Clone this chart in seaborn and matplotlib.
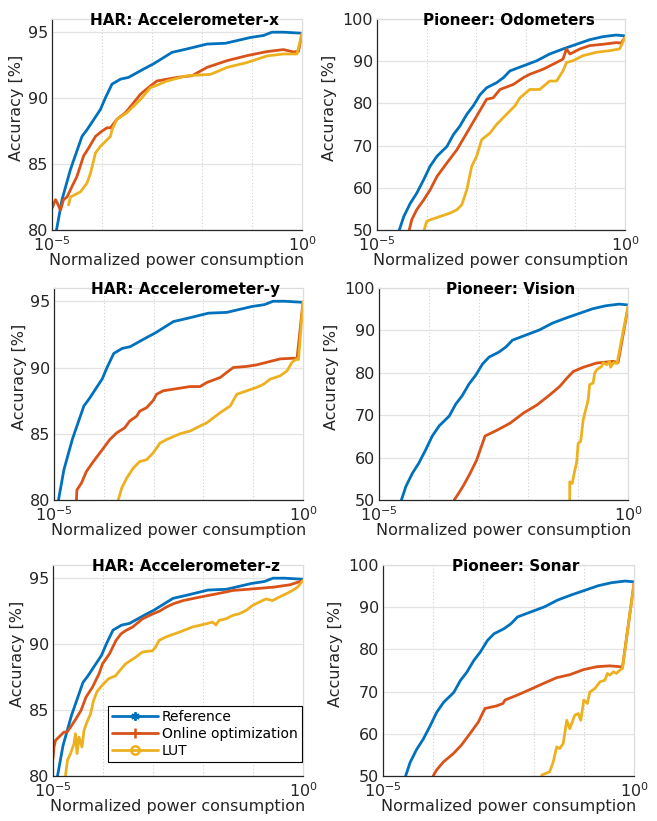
import numpy as np
import pandas as pd
import matplotlib
matplotlib.use("Agg")
import matplotlib.pyplot as plt
from matplotlib.lines import Line2D
from matplotlib.ticker import FixedLocator, LogFormatterMathtext, NullFormatter
import seaborn as sns

# ---------------- data (x given as log10 of normalized power) ----------------
# HAR reference (same in all three HAR panels)
har_ref_logp = [-4.91, -4.8, -4.63, -4.4, -4.3, -4.03, -3.93, -3.8, -3.63, -3.47, -3.17, -2.97,
                -2.6, -2.3, -1.9, -1.53, -1.03, -0.77, -0.6, -0.37, 0.0]
har_ref_acc = [80.0, 82.3, 84.6, 87.1, 87.6, 89.15, 90.04, 91.06, 91.44, 91.57, 92.2, 92.6,
               93.47, 93.73, 94.1, 94.16, 94.6, 94.75, 95.0, 95.0, 94.92]

# HAR: Accelerometer-x
accx_online_logp = [-5.0, -4.93, -4.9, -4.83, -4.77, -4.7, -4.6, -4.5, -4.37, -4.27, -4.13, -4.0,
                    -3.9, -3.83, -3.7, -3.53, -3.4, -3.23, -3.03, -2.9, -2.5, -2.2, -1.9, -1.5,
                    -1.1, -0.7, -0.37, -0.17, -0.07, 0.0]
accx_online_acc = [81.65, 82.3, 82.1, 81.5, 82.3, 82.5, 83.3, 84.07, 85.6, 86.2, 87.1, 87.5,
                   87.75, 87.75, 88.4, 88.9, 89.5, 90.3, 90.93, 91.3, 91.57, 91.7, 92.33, 92.84,
                   93.22, 93.53, 93.68, 93.5, 93.55, 94.92]
accx_lut_logp = [-4.67, -4.63, -4.43, -4.3, -4.23, -4.13, -4.03, -3.83, -3.8, -3.7, -3.5, -3.23,
                 -3.03, -2.9, -2.7, -2.3, -1.83, -1.5, -1.1, -0.7, -0.37, -0.1, 0.0]
accx_lut_acc = [81.9, 82.5, 82.9, 83.56, 84.3, 85.85, 86.35, 87.1, 87.6, 88.4, 88.9, 89.9,
                90.8, 90.98, 91.3, 91.7, 91.8, 92.33, 92.7, 93.2, 93.35, 93.35, 94.9]

# HAR: Accelerometer-y
accy_online_logp = [-4.55, -4.54, -4.45, -4.35, -4.21, -4.08, -4.01, -3.88, -3.74, -3.58, -3.48,
                    -3.34, -3.28, -3.14, -3.01, -2.94, -2.81, -2.54, -2.27, -2.07, -1.93, -1.66,
                    -1.53, -1.4, -1.13, -0.93, -0.72, -0.46, -0.19, -0.12, 0.0]
accy_online_acc = [80.0, 80.76, 81.27, 82.15, 82.9, 83.55, 83.9, 84.56, 85.07, 85.45, 85.96,
                   86.33, 86.7, 86.97, 87.5, 87.98, 88.24, 88.4, 88.56, 88.56, 88.87, 89.25,
                   89.63, 90.0, 90.08, 90.2, 90.4, 90.65, 90.7, 90.65, 94.95]
accy_lut_logp = [-3.71, -3.64, -3.54, -3.41, -3.28, -3.14, -3.01, -2.87, -2.74, -2.47, -2.27,
                 -2.07, -1.93, -1.66, -1.46, -1.33, -1.13, -0.93, -0.79, -0.66, -0.46, -0.32,
                 -0.22, -0.12, -0.09, 0.0]
accy_lut_acc = [80.0, 80.9, 81.65, 82.4, 82.9, 83.04, 83.55, 84.3, 84.56, 85.0, 85.2,
                85.58, 85.83, 86.6, 87.1, 87.98, 88.24, 88.5, 88.74, 89.12, 89.37, 89.75,
                90.4, 90.65, 90.6, 94.95]

# HAR: Accelerometer-z
accz_online_logp = [-5.0, -4.98, -4.95, -4.88, -4.78, -4.72, -4.65, -4.54, -4.44, -4.34, -4.21,
                    -4.08, -4.01, -3.87, -3.74, -3.64, -3.54, -3.41, -3.21, -3.0, -2.87, -2.74,
                    -2.6, -2.4, -2.07, -1.73, -1.4, -1.0, -0.59, -0.26, 0.0]
accz_online_acc = [81.31, 82.2, 82.7, 82.96, 83.33, 83.33, 83.7, 84.34, 84.97, 85.98, 86.74,
                   87.75, 88.5, 89.27, 90.28, 90.78, 91.04, 91.29, 91.92, 92.3, 92.5, 92.8,
                   93.05, 93.3, 93.56, 93.81, 94.07, 94.19, 94.32, 94.5, 94.82]
accz_lut_logp = [-4.75, -4.71, -4.65, -4.58, -4.55, -4.52, -4.48, -4.42, -4.38, -4.32, -4.25,
                 -4.19, -4.12, -4.02, -3.89, -3.75, -3.69, -3.55, -3.35, -3.21, -3.01, -2.95,
                 -2.88, -2.75, -2.48, -2.21, -1.94, -1.81, -1.74, -1.68, -1.54, -1.41, -1.28,
                 -1.14, -1.01, -0.88, -0.74, -0.61, -0.48, -0.34, -0.21, -0.11, 0.0]
accz_lut_acc = [80.05, 81.2, 81.7, 82.45, 83.2, 81.7, 82.95, 82.2, 83.46, 84.1, 84.7,
                85.7, 86.4, 86.87, 87.37, 87.6, 87.88, 88.5, 89.0, 89.4, 89.5, 89.77,
                90.28, 90.53, 90.9, 91.3, 91.54, 91.67, 91.45, 91.8, 91.92, 92.17, 92.3,
                92.55, 92.93, 93.18, 93.43, 93.3, 93.56, 93.81, 94.07, 94.32, 94.82]

# Pioneer reference (same in all three Pioneer panels)
pio_ref_logp = [-4.55, -4.46, -4.33, -4.2, -4.06, -3.93, -3.79, -3.59, -3.46, -3.33, -3.19, -3.06,
                -2.92, -2.79, -2.59, -2.45, -2.32, -2.05, -1.78, -1.52, -1.25, -0.98, -0.71,
                -0.45, -0.18, 0.0]
pio_ref_acc = [50.0, 53.2, 56.3, 58.7, 61.9, 65.1, 67.5, 69.8, 72.6, 74.6, 77.4, 79.4,
               82.1, 83.7, 84.9, 86.1, 87.7, 88.9, 90.1, 91.7, 92.9, 94.0, 95.1,
               95.8, 96.2, 96.0]

# Pioneer: Odometers
odo_online_logp = [-4.35, -4.3, -4.2, -4.06, -3.93, -3.79, -3.59, -3.39, -3.19, -2.99, -2.79,
                   -2.66, -2.52, -2.25, -2.05, -1.92, -1.65, -1.38, -1.25, -1.18, -1.11, -0.91,
                   -0.71, -0.45, -0.18, -0.08, 0.0]
odo_online_acc = [50.0, 52.4, 54.8, 57.1, 59.5, 62.7, 65.9, 69.0, 73.0, 77.0, 81.0,
                  81.3, 83.3, 84.5, 86.1, 86.9, 88.1, 89.7, 90.5, 92.9, 91.7, 92.9,
                  93.7, 94.0, 94.4, 94.3, 95.6]
odo_lut_logp = [-4.05, -4.0, -3.93, -3.73, -3.53, -3.39, -3.29, -3.19, -3.09, -2.99, -2.89,
                -2.72, -2.59, -2.39, -2.22, -2.12, -1.92, -1.72, -1.52, -1.38, -1.25, -1.18,
                -1.05, -0.85, -0.58, -0.31, -0.11, 0.0]
odo_lut_acc = [50.0, 52.0, 52.4, 53.2, 54.0, 54.8, 56.0, 59.5, 65.1, 67.5, 71.4,
               73.0, 75.0, 77.4, 79.4, 81.3, 83.3, 83.3, 85.3, 85.3, 87.7, 89.7,
               90.1, 91.3, 92.1, 92.5, 92.9, 95.6]

# Pioneer: Vision
vis_online_logp = [-3.49, -3.4, -3.3, -3.17, -3.04, -2.87, -2.64, -2.37, -2.1, -1.83, -1.57,
                   -1.37, -1.23, -1.1, -0.9, -0.63, -0.3, -0.2, 0.0]
vis_online_acc = [50.0, 51.6, 53.5, 56.3, 59.4, 65.1, 66.4, 68.1, 70.5, 72.4, 74.8,
                  76.8, 78.7, 80.3, 81.3, 82.3, 82.7, 82.4, 95.3]
vis_lut_logp = [-1.17, -1.17, -1.12, -1.08, -1.03, -1.0, -0.95, -0.9, -0.8, -0.77, -0.7,
                -0.67, -0.63, -0.53, -0.5, -0.43, -0.37, -0.35, -0.29, -0.22, 0.0]
vis_lut_acc = [50.0, 54.3, 53.9, 56.3, 59.0, 63.4, 63.8, 68.9, 73.6, 77.2, 77.6,
               79.9, 80.7, 81.5, 82.4, 81.9, 82.7, 81.3, 82.4, 82.2, 95.7]

# Pioneer: Sonar
son_online_logp = [-4.0, -3.94, -3.8, -3.6, -3.44, -3.27, -3.1, -2.97, -2.74, -2.61, -2.57,
                   -2.34, -2.07, -1.81, -1.54, -1.28, -1.01, -0.74, -0.48, -0.28, -0.23, 0.0]
son_online_acc = [50.0, 51.3, 53.3, 55.3, 57.3, 60.0, 62.8, 66.0, 66.6, 67.2, 68.0,
                  69.1, 70.5, 71.9, 73.3, 74.0, 75.2, 75.9, 76.1, 75.9, 75.7, 95.6]
son_lut_logp = [-1.84, -1.68, -1.61, -1.54, -1.48, -1.41, -1.34, -1.28, -1.18, -1.11, -1.06,
                -1.0, -0.93, -0.88, -0.78, -0.68, -0.58, -0.53, -0.48, -0.41, -0.35, -0.28,
                -0.23, 0.0]
son_lut_acc = [50.2, 51.0, 53.3, 56.9, 56.5, 57.7, 63.2, 61.2, 64.4, 64.8, 63.2,
               68.0, 67.2, 69.9, 70.7, 72.3, 72.7, 74.3, 73.9, 74.7, 74.3, 75.1,
               75.5, 95.6]

titles = ["HAR: Accelerometer-x", "Pioneer: Odometers",
          "HAR: Accelerometer-y", "Pioneer: Vision",
          "HAR: Accelerometer-z", "Pioneer: Sonar"]
series_names = ["Reference", "Online optimization", "LUT"]
har_yticks = [80, 85, 90, 95]
pio_yticks = [50, 60, 70, 80, 90, 100]

panels = [
    (har_ref_logp, har_ref_acc, accx_online_logp, accx_online_acc, accx_lut_logp, accx_lut_acc),
    (pio_ref_logp, pio_ref_acc, odo_online_logp, odo_online_acc, odo_lut_logp, odo_lut_acc),
    (har_ref_logp, har_ref_acc, accy_online_logp, accy_online_acc, accy_lut_logp, accy_lut_acc),
    (pio_ref_logp, pio_ref_acc, vis_online_logp, vis_online_acc, vis_lut_logp, vis_lut_acc),
    (har_ref_logp, har_ref_acc, accz_online_logp, accz_online_acc, accz_lut_logp, accz_lut_acc),
    (pio_ref_logp, pio_ref_acc, son_online_logp, son_online_acc, son_lut_logp, son_lut_acc),
]

# ---------------- style ----------------
sns.set_theme(style="white")
plt.rcParams["font.family"] = ["DejaVu Sans"]
colors = ["#0072BD", "#D95319", "#EDB120"]
dark = "#262626"

W, H = 657, 821
fig = plt.figure(figsize=(W / 100, H / 100), dpi=100)

# axes boxes in pixels: (left, top, right, bottom)
boxes = [(52, 19, 302, 230), (377, 19, 625, 230),
         (54, 288, 303, 500), (379, 288, 628, 500),
         (53, 565, 303, 776), (383, 565, 634, 776)]

for i, (box, title, data) in enumerate(zip(boxes, titles, panels)):
    l, t, r, b = box
    ax = fig.add_axes([l / W, 1 - b / H, (r - l) / W, (b - t) / H])
    is_har = (i % 2 == 0)
    frames = []
    for k in range(3):
        lp = np.asarray(data[2 * k], dtype=float)
        frames.append(pd.DataFrame({"power": 10.0 ** lp,
                                    "acc": data[2 * k + 1],
                                    "series": series_names[k]}))
    for k in [0, 1, 2]:
        sns.lineplot(data=frames[k], x="power", y="acc", ax=ax, color=colors[k],
                     lw=2.0, estimator=None, sort=False, legend=False)
    ax.set_xscale("log")
    ax.set_xlim(1e-5, 1e0)
    if is_har:
        ax.set_ylim(80, 96)
        ax.set_yticks(har_yticks)
    else:
        ax.set_ylim(50, 100)
        ax.set_yticks(pio_yticks)
    ax.xaxis.set_major_locator(FixedLocator([1e-5, 1e0]))
    ax.xaxis.set_major_formatter(LogFormatterMathtext())
    ax.xaxis.set_minor_locator(FixedLocator([1e-4, 1e-3, 1e-2, 1e-1]))
    ax.xaxis.set_minor_formatter(NullFormatter())
    ax.grid(True, which="major", axis="y", color="#e3e3e3", lw=0.9, ls="-")
    ax.grid(True, which="minor", axis="x", color="#cfcfcf", lw=0.8, ls=(0, (1, 2)))
    ax.set_axisbelow(True)
    ax.tick_params(axis="both", which="major", direction="in", length=3, width=0.8,
                   colors=dark, labelsize=11.5, pad=3)
    ax.tick_params(axis="x", which="minor", length=0)
    ax.tick_params(axis="x", which="major", pad=4)
    for s in ["left", "bottom"]:
        ax.spines[s].set_color(dark)
        ax.spines[s].set_linewidth(0.9)
    for s in ["top", "right"]:
        ax.spines[s].set_color("#dddddd")
        ax.spines[s].set_linewidth(0.9)
    ax.set_xlabel("Normalized power consumption", fontsize=11.5, color=dark, labelpad=-1)
    ax.set_ylabel("Accuracy [%]", fontsize=11.5, color=dark)
    ax.yaxis.set_label_coords(-0.11 if is_har else -0.16, 0.58)
    ax.text(0.53, 0.972, title, transform=ax.transAxes, ha="center", va="baseline",
            fontsize=11, fontweight="bold", color="black")

    if i == 4:
        handles = [
            Line2D([], [], color=colors[0], lw=2.0, marker=(6, 2, 0), ms=6, mew=1.5),
            Line2D([], [], color=colors[1], lw=2.0, marker="+", ms=7, mew=1.8),
            Line2D([], [], color=colors[2], lw=2.0, marker="o", ms=6, mew=1.8,
                   markerfacecolor="none"),
        ]
        leg = ax.legend(handles, series_names, loc="lower left",
                        bbox_to_anchor=(0.221, 0.066), borderaxespad=0,
                        fontsize=10, frameon=True, fancybox=False, framealpha=1,
                        edgecolor="black", handlelength=3.3, handletextpad=0.25,
                        labelspacing=0.2, borderpad=0.3, numpoints=1)
        leg.get_frame().set_linewidth(0.8)
        for txt in leg.get_texts():
            txt.set_color("black")

fig.savefig("out.png", dpi=100)
